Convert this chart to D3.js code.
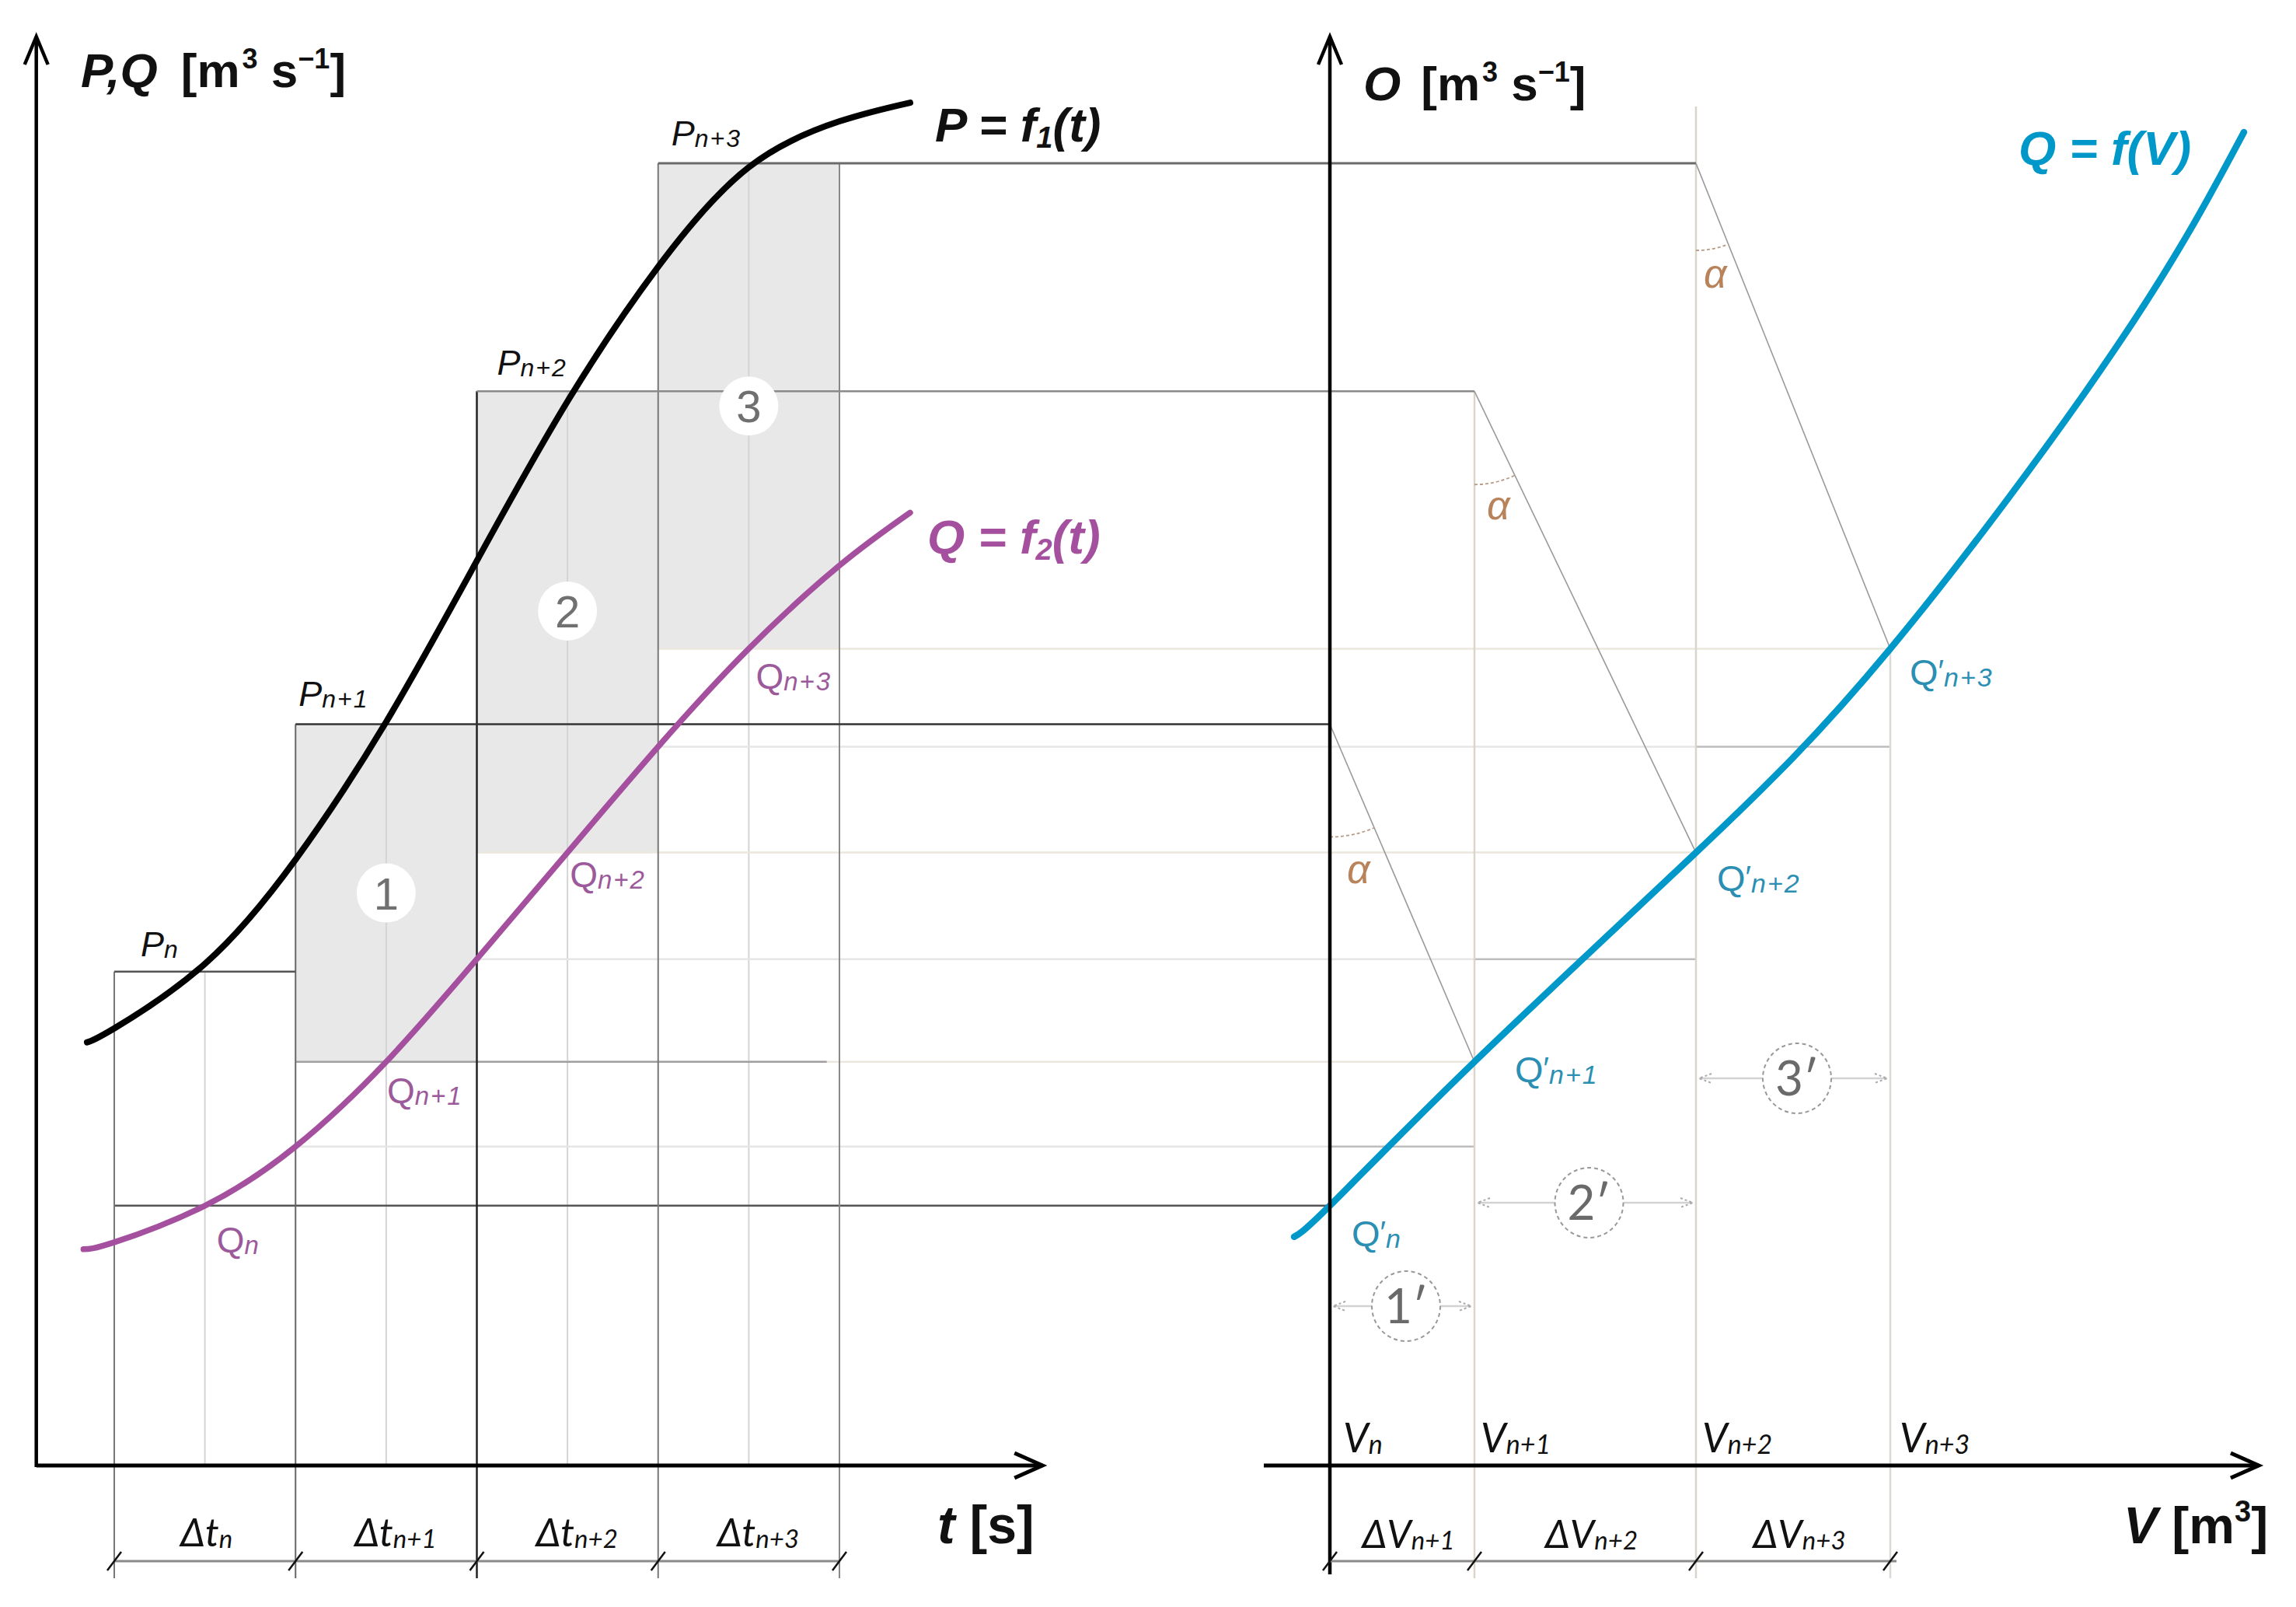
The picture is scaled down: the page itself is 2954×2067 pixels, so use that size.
<!DOCTYPE html>
<html><head><meta charset="utf-8">
<script src="https://cdn.jsdelivr.net/npm/d3@7"></script>
<style>html,body{margin:0;padding:0;background:#fff;} svg{display:block}</style>
</head><body><svg id="c" width="2954" height="2067"></svg>
<script>
// ---------------- data ----------------
const stepIdx   = ["n", "n+1", "n+2", "n+3"];
const tBounds   = [1, 2, 3, 4, 5];            // boundaries of Δt intervals
const tMid      = [1.5, 2.5, 3.5, 4.5];       // interval midpoints
const pSteps    = [6.35, 9.53, 13.81, 16.74]; // P_n ... P_n+3
const qSteps    = [3.34, 5.19, 7.88, 10.50];  // Q_n ... Q_n+3
const qAtBounds = [2.87, 4.10, 6.51, 9.24];   // Q at interval boundaries
const vTicks    = [0, 1.86, 4.71, 7.21];      // V_n ... V_n+3
const pCurve = [[0.85,5.44],[1.0,5.62],[1.5,6.45],[2.0,7.79],[2.5,9.56],[3.0,11.63],[3.5,13.68],[4.0,15.41],[4.5,16.69],[5.0,17.28],[5.39,17.52]];
const qCurve = [[0.83,2.78],[1.0,2.87],[1.5,3.34],[2.0,4.10],[2.5,5.19],[3.0,6.51],[3.5,7.88],[4.0,9.24],[4.5,10.50],[5.0,11.57],[5.39,12.25]];
const oCurve = [[-0.46,2.94],[0,3.34],[1.86,5.19],[4.71,7.88],[7.21,10.50],[10.12,14.38],[11.76,17.14]];
const tAxisExtent = [0.57, 6.12];
const vAxisExtent = [-0.85, 11.95];
const yAxisTop = 18.37;
const circleLabels = ["1", "2", "3"];
const primeLabels  = ["1\u2032", "2\u2032", "3\u2032"];

// ---------------- scales ----------------
const xT = d3.scaleLinear().domain([1, 5]).range([147, 1080]);
const xV = d3.scaleLinear().domain([0, 7.21]).range([1711, 2432]);
const y  = d3.scaleLinear().domain([0, yAxisTop]).range([1885, 47]);

const svg = d3.select("#c");
const ARIAL = "'Liberation Sans', Arial, sans-serif";
const HUM = "Lato, 'Open Sans', sans-serif";
const MAG = "#a4509f", MAGL = "#9c5a9a", BLUE = "#0098c9", BLUEL = "#2a8fb3";
const BOTTOM = 2030;

function line(g, x1, y1, x2, y2, stroke, w, extra) {
  const l = g.append("line").attr("x1", x1).attr("y1", y1).attr("x2", x2).attr("y2", y2)
    .attr("stroke", stroke).attr("stroke-width", w);
  if (extra) Object.entries(extra).forEach(([k, v]) => l.attr(k, v));
  return l;
}
function rich(g, x, yy, parts, attrs) {
  const t = g.append("text").attr("x", x).attr("y", yy);
  Object.entries(attrs || {}).forEach(([k, v]) => t.attr(k, v));
  let cur = 0;
  parts.forEach(p => {
    const s = t.append("tspan").text(p.t);
    const sh = p.shift || 0;
    s.attr("dy", sh - cur); cur = sh;
    if (p.size) s.attr("font-size", p.size);
    if (p.style) s.attr("font-style", p.style);
    if (p.weight) s.attr("font-weight", p.weight);
    if (p.dx) s.attr("dx", p.dx);
    if (p.ls) s.attr("letter-spacing", p.ls);
    if (p.family) s.attr("font-family", p.family);
  });
  return t;
}

const gBack = svg.append("g");
// gray blocks (intervals n+1..n+3)
for (let i = 1; i <= 3; i++) {
  gBack.append("rect")
    .attr("x", xT(tBounds[i])).attr("y", y(pSteps[i]))
    .attr("width", xT(tBounds[i + 1]) - xT(tBounds[i]))
    .attr("height", y(qSteps[i]) - y(pSteps[i]))
    .attr("fill", "#e8e8e8");
}
// midlines
tMid.forEach((t, i) => line(gBack, xT(t), y(pSteps[i]), xT(t), y(0), "#d4d4d4", 2));

// horizontal helper lines of Q at boundaries
for (let i = 1; i <= 3; i++) {
  line(gBack, xT(tBounds[i]), y(qAtBounds[i]), xV(vTicks[i - 1]), y(qAtBounds[i]), "#e6e6e6", 2.5);
  line(gBack, xV(vTicks[i - 1]), y(qAtBounds[i]), xV(vTicks[i]), y(qAtBounds[i]), "#bdbdbd", 2.5);
}
// horizontal lines of Q steps
for (let i = 1; i <= 3; i++) {
  line(gBack, xT(tBounds[i]), y(qSteps[i]), xV(vTicks[i]), y(qSteps[i]), "#ebe7de", 2.5);
}
line(gBack, xT(tBounds[1]), y(qSteps[1]), xT(4.93), y(qSteps[1]), "#a0a0a0", 2.5);
line(gBack, xT(tBounds[0]), y(qSteps[0]), xV(vTicks[0]), y(qSteps[0]), "#555", 2.5);

// right-panel verticals V_n+1..V_n+3
line(gBack, xV(vTicks[1]), y(pSteps[2]), xV(vTicks[1]), BOTTOM, "#d9d5cc", 2.5);
line(gBack, xV(vTicks[2]), y(17.47), xV(vTicks[2]), BOTTOM, "#d9d5cc", 2.5);
line(gBack, xV(vTicks[3]), y(qSteps[3]), xV(vTicks[3]), BOTTOM, "#dedad2", 2.5);

// boundary verticals
const bColors = ["#777", "#666", "#222", "#777", "#888"];
tBounds.forEach((t, i) => {
  const top = y(pSteps[Math.min(i, 3)]);
  line(gBack, xT(t), top, xT(t), BOTTOM, bColors[i], i === 2 ? 2.5 : 2);
});
// P step lines
line(gBack, xT(tBounds[0]), y(pSteps[0]), xT(tBounds[1]), y(pSteps[0]), "#555", 2.5);
line(gBack, xT(tBounds[1]), y(pSteps[1]), xV(vTicks[0]), y(pSteps[1]), "#333", 2.5);
line(gBack, xT(tBounds[2]), y(pSteps[2]), xV(vTicks[1]), y(pSteps[2]), "#8a8a8a", 2.5);
line(gBack, xT(tBounds[3]), y(pSteps[3]), xV(vTicks[2]), y(pSteps[3]), "#6a6a6a", 3);

// diagonals and alpha arcs
const alphaG = svg.append("g");
const arcR = [145, 120, 112], alphaDy = [205, 165, 160], alphaDx = [22, 16, 10];
for (let i = 0; i < 3; i++) {
  const cx = xV(vTicks[i]), cy = y(pSteps[i + 1]);
  const ex = xV(vTicks[i + 1]), ey = y(qSteps[i + 1]);
  line(alphaG, cx, cy, ex, ey, "#9a9a9a", 1.6);
  const len = Math.hypot(ex - cx, ey - cy), r = arcR[i];
  const ax = cx + r * (ex - cx) / len, ay = cy + r * (ey - cy) / len;
  alphaG.append("path").attr("d", `M${cx},${cy + r} A${r},${r} 0 0 0 ${ax},${ay}`)
    .attr("fill", "none").attr("stroke", "#b89a86").attr("stroke-width", 1.8).attr("stroke-dasharray", "4,3");
  alphaG.append("text").attr("x", cx + alphaDx[i]).attr("y", cy + alphaDy[i]).text("\u03b1")
    .attr("font-family", ARIAL).attr("font-style", "italic").attr("font-size", 52).attr("fill", "#b8825a");
}

// ---------------- curves ----------------
const gl = d3.line().curve(d3.curveNatural);
svg.append("path").attr("d", gl(pCurve.map(d => [xT(d[0]), y(d[1])])))
  .attr("fill", "none").attr("stroke", "#000").attr("stroke-width", 8).attr("stroke-linecap", "round");
svg.append("path").attr("d", gl(qCurve.map(d => [xT(d[0]), y(d[1])])))
  .attr("fill", "none").attr("stroke", MAG).attr("stroke-width", 7.5).attr("stroke-linecap", "round");
svg.append("path").attr("d", gl(oCurve.map(d => [xV(d[0]), y(d[1])])))
  .attr("fill", "none").attr("stroke", BLUE).attr("stroke-width", 8.5).attr("stroke-linecap", "round");

// ---------------- axes ----------------
const ax = svg.append("g").attr("fill", "none").attr("stroke", "#000");
function arrowUp(x, yy) {
  ax.append("path").attr("d", `M${x - 15},${yy + 36} L${x},${yy} L${x + 15},${yy + 36}`).attr("stroke-width", 4.5);
}
function arrowRight(x, yy) {
  ax.append("path").attr("d", `M${x - 36},${yy - 16} L${x},${yy} L${x - 36},${yy + 16}`).attr("stroke-width", 5);
}
line(ax, xT(tAxisExtent[0]), y(0), xT(tAxisExtent[1]), y(0), "#000", 5);
line(ax, xT(tAxisExtent[0]), y(0) + 2, xT(tAxisExtent[0]), y(yAxisTop), "#000", 4.5);
arrowUp(xT(tAxisExtent[0]), y(yAxisTop));
arrowRight(xT(tAxisExtent[1]), y(0));
line(ax, xV(vAxisExtent[0]), y(0), xV(vAxisExtent[1]), y(0), "#000", 5);
line(ax, xV(0), BOTTOM - 5, xV(0), y(yAxisTop), "#000", 4.5);
arrowUp(xV(0), y(yAxisTop));
arrowRight(xV(vAxisExtent[1]), y(0));

// dimension lines
const DIM = 2008;
const dim = svg.append("g");
line(dim, xT(tBounds[0]), DIM, xT(tBounds[4]), DIM, "#8a8a8a", 3);
line(dim, xV(vTicks[0]), DIM, xV(vTicks[3]) + 8, DIM, "#8a8a8a", 3);
tBounds.forEach(t => line(dim, xT(t) - 9, DIM + 12, xT(t) + 9, DIM - 12, "#111", 2.5));
vTicks.forEach(v => line(dim, xV(v) - 9, DIM + 12, xV(v) + 9, DIM - 12, "#111", 2.5));

// ---------------- numbered circles ----------------
for (let i = 1; i <= 3; i++) {
  const cx = xT(tMid[i]), cy = (y(pSteps[i]) + y(qSteps[i])) / 2 - (i === 2 ? 14 : 0);
  svg.append("circle").attr("cx", cx).attr("cy", cy).attr("r", 38).attr("fill", "#fff");
  svg.append("text").attr("x", cx).attr("y", cy + 21).attr("text-anchor", "middle")
    .attr("font-family", ARIAL).attr("font-size", 58).attr("fill", "#707070").text(circleLabels[i - 1]);
}
// primed dashed circles with double arrows
const primeY = [1680, 1547, 1387];
for (let i = 0; i < 3; i++) {
  const x1 = xV(vTicks[i]), x2 = xV(vTicks[i + 1]), cx = (x1 + x2) / 2 + 5, cy = primeY[i];
  line(svg, x1 + 4, cy, x2 - 4, cy, "#d2d2d2", 2.5);
  [[x1 + 4, 1], [x2 - 4, -1]].forEach(([px, d]) => {
    svg.append("path").attr("d", `M${px + d * 16},${cy - 6} L${px},${cy} L${px + d * 16},${cy + 6}`)
      .attr("fill", "none").attr("stroke", "#aaa").attr("stroke-width", 2).attr("stroke-dasharray", "3,3");
  });
  svg.append("ellipse").attr("cx", cx).attr("cy", cy).attr("rx", 44).attr("ry", 45)
    .attr("fill", "#fff").attr("stroke", "#999").attr("stroke-width", 2).attr("stroke-dasharray", "5,4");
  svg.append("text").attr("x", cx).attr("y", cy + 22).attr("text-anchor", "middle")
    .attr("font-family", HUM).attr("font-size", 62).attr("fill", "#6a6a6a").text(primeLabels[i]);
}

// ---------------- labels ----------------
const lab = svg.append("g").attr("font-family", ARIAL);
// axis titles
rich(lab, 104, 112, [
  {t: "P,Q", style: "italic", weight: "bold"},
  {t: "[m", weight: "bold", dx: 30}, {t: "3", size: 36, shift: -24, weight: "bold", dx: 3},
  {t: " s", weight: "bold"}, {t: "\u22121", size: 36, shift: -24, weight: "bold"},
  {t: "]", weight: "bold"}], {"font-size": 62, fill: "#111"});
rich(lab, 1754, 129, [
  {t: "O", style: "italic", weight: "bold"},
  {t: "[m", weight: "bold", dx: 26}, {t: "3", size: 36, shift: -24, weight: "bold", dx: 3},
  {t: " s", weight: "bold"}, {t: "\u22121", size: 36, shift: -24, weight: "bold"},
  {t: "]", weight: "bold"}], {"font-size": 62, fill: "#111"});
rich(lab, 1203, 182, [{t: "P = f"}, {t: "1", size: 38, shift: 8}, {t: "(t)"}],
  {"font-size": 62, "font-style": "italic", "font-weight": "bold", fill: "#111"});
rich(lab, 1193, 712, [{t: "Q = f"}, {t: "2", size: 38, shift: 8}, {t: "(t)"}],
  {"font-size": 62, "font-style": "italic", "font-weight": "bold", fill: MAG});
rich(lab, 2597, 212, [{t: "Q = f(V)"}],
  {"font-size": 62, "font-style": "italic", "font-weight": "bold", fill: BLUE});
rich(lab, 1206, 1985, [{t: "t", style: "italic"}, {t: " [s]"}],
  {"font-size": 68, "font-weight": "bold", fill: "#111"});
rich(lab, 2732, 1985, [{t: "V", style: "italic"}, {t: " [m"}, {t: "3", size: 38, shift: -28}, {t: "]"}],
  {"font-size": 66, "font-weight": "bold", fill: "#111"});

// P labels
const pOff = [[34, -20], [4, -23], [26, -21], [17, -23]];
pSteps.forEach((p, i) => {
  rich(lab, xT(tBounds[i]) + pOff[i][0], y(p) + pOff[i][1],
    [{t: "P", size: 45}, {t: stepIdx[i], size: 32, shift: 2, ls: 2}],
    {"font-style": "italic", fill: "#111"});
});
// Q labels
const qOff = [[15, 60], [1, 53], [3, 44], [9, 52]];
qSteps.forEach((q, i) => {
  rich(lab, xT(tMid[i]) + qOff[i][0], y(q) + qOff[i][1],
    [{t: "Q", size: 46}, {t: stepIdx[i], size: 33, shift: 2, style: "italic", ls: 2}],
    {fill: MAGL});
});
// Q' labels
const q2Off = [[28, 52], [52, 26], [27, 49], [25, 47]];
qSteps.forEach((q, i) => {
  rich(lab, xV(vTicks[i]) + q2Off[i][0], y(q) + q2Off[i][1],
    [{t: "Q", size: 47}, {t: "\u2032", size: 40, shift: -4}, {t: stepIdx[i], size: 34, shift: 2, style: "italic", ls: 2}],
    {fill: BLUEL});
});
// V labels
const vOff = [17, 8, 8, 12];
vTicks.forEach((v, i) => {
  rich(lab, xV(v) + vOff[i], 1868, [{t: "V", size: 52}, {t: stepIdx[i], size: 34, shift: 2}],
    {"font-family": HUM, "font-style": "italic", fill: "#111"});
});
// Δt labels
tMid.forEach((t, i) => {
  rich(lab, xT(t) + (i === 0 ? 2 : 12), 1989, [{t: "\u0394t", size: 50}, {t: stepIdx[i], size: 33, shift: 2}],
    {"font-family": HUM, "font-style": "italic", fill: "#111", "text-anchor": "middle"});
});
// ΔV labels
for (let i = 0; i < 3; i++) {
  const cx = (xV(vTicks[i]) + xV(vTicks[i + 1])) / 2 + 8;
  rich(lab, cx, 1991, [{t: "\u0394V", size: 50}, {t: stepIdx[i + 1], size: 33, shift: 2}],
    {"font-family": HUM, "font-style": "italic", fill: "#111", "text-anchor": "middle"});
}
</script></body></html>
